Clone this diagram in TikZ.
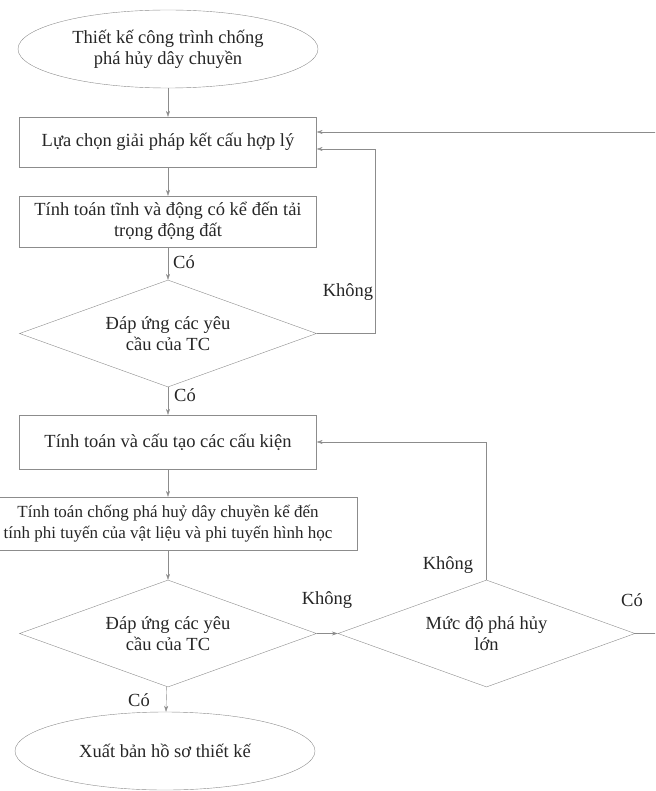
\documentclass[tikz,border=0pt]{standalone}
\usepackage{fontspec}
\setmainfont{Liberation Serif}
\usetikzlibrary{shapes.geometric,arrows.meta}
\definecolor{linegray}{HTML}{8C8C8C}
\definecolor{textgray}{HTML}{262626}
\begin{document}
\begin{tikzpicture}[x=1pt,y=-1pt,
  every node/.style={font=\fontsize{18.5}{21}\selectfont,text=textgray},
  oval/.style={ellipse,draw=linegray,minimum width=300pt,minimum height=78pt,inner sep=0pt,align=center},
  stepbox/.style={rectangle,draw=linegray,minimum width=297pt,minimum height=51pt,inner sep=1pt,align=center},
  test/.style={diamond,aspect=3,draw=linegray,minimum width=297pt,minimum height=107pt,inner sep=0pt,align=center},
  arr/.style={draw=linegray,-{Stealth[length=6pt,width=4pt]}}]
\useasboundingbox (0,0) rectangle (655,791);
\clip (0,0) rectangle (655,791);

\node[oval] (start) at (168,49) {Thiết kế công trình chống\\phá hủy dây chuyền};
\node[stepbox,minimum height=50pt] (chon) at (168,142) {Lựa chọn giải pháp kết cấu hợp lý};
\node[stepbox] (tinh) at (168,221.5) {Tính toán tĩnh và động có kể đến tải\\trọng động đất};
\node[test] (dapung) at (168,333.5) {Đáp ứng các yêu\\cầu của TC};
\node[stepbox,minimum height=54pt] (cauKien) at (168,442) {Tính toán và cấu tạo các cấu kiện};
\node[stepbox,minimum width=378pt,minimum height=53pt,font=\fontsize{17}{21}\selectfont] (phaHuy) at (168,523.5) {Tính toán chống phá huỷ dây chuyền kể đến\\tính phi tuyến của vật liệu và phi tuyến hình học};
\node[test] (dapungHai) at (168,633.5) {Đáp ứng các yêu\\cầu của TC};
\node[test] (mucDo) at (486.5,633.5) {Mức độ phá hủy\\lớn};
\node[oval] (xuatBan) at (165,751) {Xuất bản hồ sơ thiết kế};

\draw[arr] (start) -- (chon);
\draw[arr] (chon) -- (tinh);
\draw[arr] (tinh) -- (dapung);
\node (co1) at (184,262) {Có};
\draw[arr] (dapung) -- (cauKien);
\node (co2) at (185,395) {Có};
\draw[arr] (dapung.east) -- ++(58,0) |- ([yshift=-7pt]chon.east);
\node (khong1) at (348,292) {Không};
\draw[arr] (cauKien) -- (phaHuy);
\draw[arr] (phaHuy) -- (dapungHai);
\draw[arr] (dapungHai) -- (xuatBan);
\node (co3) at (139,700) {Có};
\draw[arr] (dapungHai.east) -- (mucDo.west);
\node (khong2) at (327,600) {Không};
\draw[arr] (mucDo.north) |- (cauKien.east);
\node (khong3) at (448,565) {Không};
\draw[arr] (mucDo.east) -- (662,633.5) |- ([yshift=10pt]chon.east);
\node (co4) at (632,600) {Có};
\end{tikzpicture}
\end{document}
